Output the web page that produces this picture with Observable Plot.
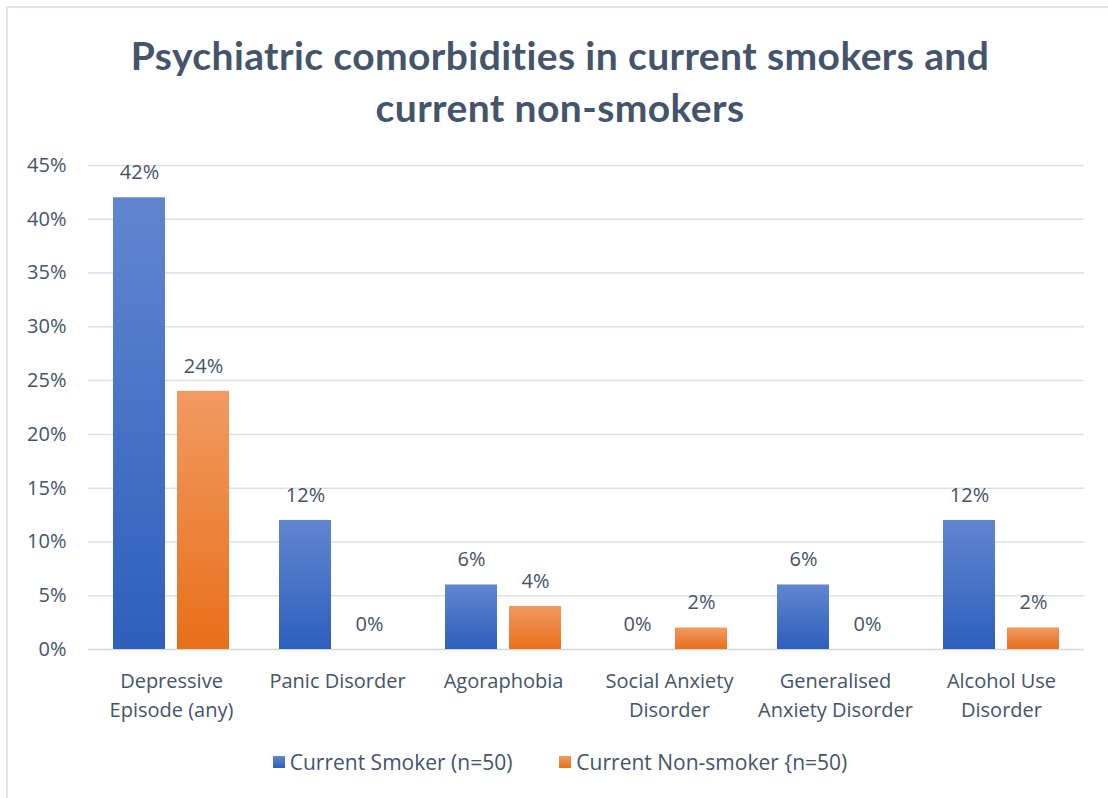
<!DOCTYPE html>
<html>
<head>
<meta charset="utf-8">
<script src="https://cdn.jsdelivr.net/npm/d3@7"></script>
<script src="https://cdn.jsdelivr.net/npm/@observablehq/plot@0.6"></script>
<style>
  html, body { margin: 0; padding: 0; background: #ffffff; }
  body { font-family: "Open Sans", Lato, sans-serif; color: #44546a; width: 1108px; height: 798px; overflow: hidden; position: relative; }
  #frame { position: absolute; left: 6px; top: 6px; width: 1200px; height: 900px; border-left: 2px solid #dfe3e8; border-top: 2px solid #dfe3e8; pointer-events: none; }
  #title { margin: 0; height: 140px; box-sizing: border-box; padding: 29px 0 0 12px; text-align: center; font-family: Lato, sans-serif; font-size: 39px; letter-spacing: 0.4px; font-weight: 700; line-height: 52px; color: #44546a; }
  #chart svg { display: block; }
  #legend { display: flex; justify-content: center; align-items: center; gap: 47px; height: 44px; font-size: 21px; padding-left: 12px; }
  .item { display: flex; align-items: center; gap: 5px; }
  .swatch { width: 12px; height: 12px; display: inline-block; }
</style>
</head>
<body>
<div id="frame"></div>
<div id="title">Psychiatric comorbidities in current smokers and<br>current non-smokers</div>
<div id="chart"></div>
<div id="legend"></div>
<script>
// Disorder categories and their axis labels (with line breaks)
const categories = [
  "Depressive Episode (any)",
  "Panic Disorder",
  "Agoraphobia",
  "Social Anxiety Disorder",
  "Generalised Anxiety Disorder",
  "Alcohol Use Disorder"
];
const tickLabels = [
  "Depressive\nEpisode (any)",
  "Panic Disorder",
  "Agoraphobia",
  "Social Anxiety\nDisorder",
  "Generalised\nAnxiety Disorder",
  "Alcohol Use\nDisorder"
];

// Series names and prevalence values (%)
const seriesNames = ["Current Smoker (n=50)", "Current Non-smoker {n=50)"];
const smokerValues = [42, 12, 6, 0, 6, 12];
const nonSmokerValues = [24, 0, 4, 2, 0, 2];

// Y axis ticks (%)
const yTicks = [0, 5, 10, 15, 20, 25, 30, 35, 40, 45];

const gradients = [
  { id: "gradSmoker", top: "#6186d0", bottom: "#2d5fbc" },
  { id: "gradNonSmoker", top: "#f19a62", bottom: "#e86f19" }
];

const rows = [];
categories.forEach((c, i) => {
  rows.push({ category: c, series: seriesNames[0], value: smokerValues[i] });
  rows.push({ category: c, series: seriesNames[1], value: nonSmokerValues[i] });
});
const labelFor = new Map(categories.map((c, i) => [c, tickLabels[i]]));
const textColor = "#44546a";

const plot = Plot.plot({
  width: 1108,
  height: 600,
  marginTop: 25,
  marginBottom: 91,
  marginLeft: 88,
  marginRight: 24,
  style: { fontFamily: "'Open Sans', Lato, sans-serif", fontSize: "20px", color: textColor, background: "transparent", overflow: "visible" },
  fx: { domain: categories, padding: 0, axis: null },
  x: { domain: seriesNames, paddingInner: 0.1875, paddingOuter: 0.390625, axis: null },
  y: { domain: [0, 45], axis: null },
  marks: [
    Plot.ruleY(yTicks.filter(t => t > 0), { stroke: "#dde1e7", strokeWidth: 1.5 }),
    Plot.ruleY([0], { stroke: "#d3d8df", strokeWidth: 1.5 }),
    Plot.axisY({
      ticks: yTicks, tickFormat: d => d + "%", tickSize: 0, tickPadding: 22,
      fontSize: 20, fill: textColor, label: null
    }),
    Plot.axisFx({
      anchor: "bottom", tickSize: 0, tickPadding: 18, fontSize: 20, lineHeight: 1.45,
      fill: textColor, label: null, tickFormat: d => labelFor.get(d)
    }),
    Plot.barY(rows.filter(d => d.series === seriesNames[0]), {
      fx: "category", x: "series", y: "value", fill: "url(#gradSmoker)"
    }),
    Plot.barY(rows.filter(d => d.series === seriesNames[1]), {
      fx: "category", x: "series", y: "value", fill: "url(#gradNonSmoker)"
    }),
    Plot.text(rows, {
      fx: "category", x: "series", y: "value", text: d => d.value + "%",
      dy: -25, fontSize: 20, fill: textColor
    })
  ]
});

// Vertical gradients used by the bars
const defs = d3.select(plot).insert("defs", ":first-child");
gradients.forEach(g => {
  const lg = defs.append("linearGradient").attr("id", g.id)
    .attr("x1", 0).attr("y1", 0).attr("x2", 0).attr("y2", 1);
  lg.append("stop").attr("offset", "0%").attr("stop-color", g.top);
  lg.append("stop").attr("offset", "100%").attr("stop-color", g.bottom);
});

document.getElementById("chart").appendChild(plot);

// Legend
const legend = d3.select("#legend");
seriesNames.forEach((name, i) => {
  const item = legend.append("div").attr("class", "item");
  item.append("span").attr("class", "swatch")
    .style("background", `linear-gradient(${gradients[i].top}, ${gradients[i].bottom})`);
  item.append("span").text(name);
});
</script>
</body>
</html>
